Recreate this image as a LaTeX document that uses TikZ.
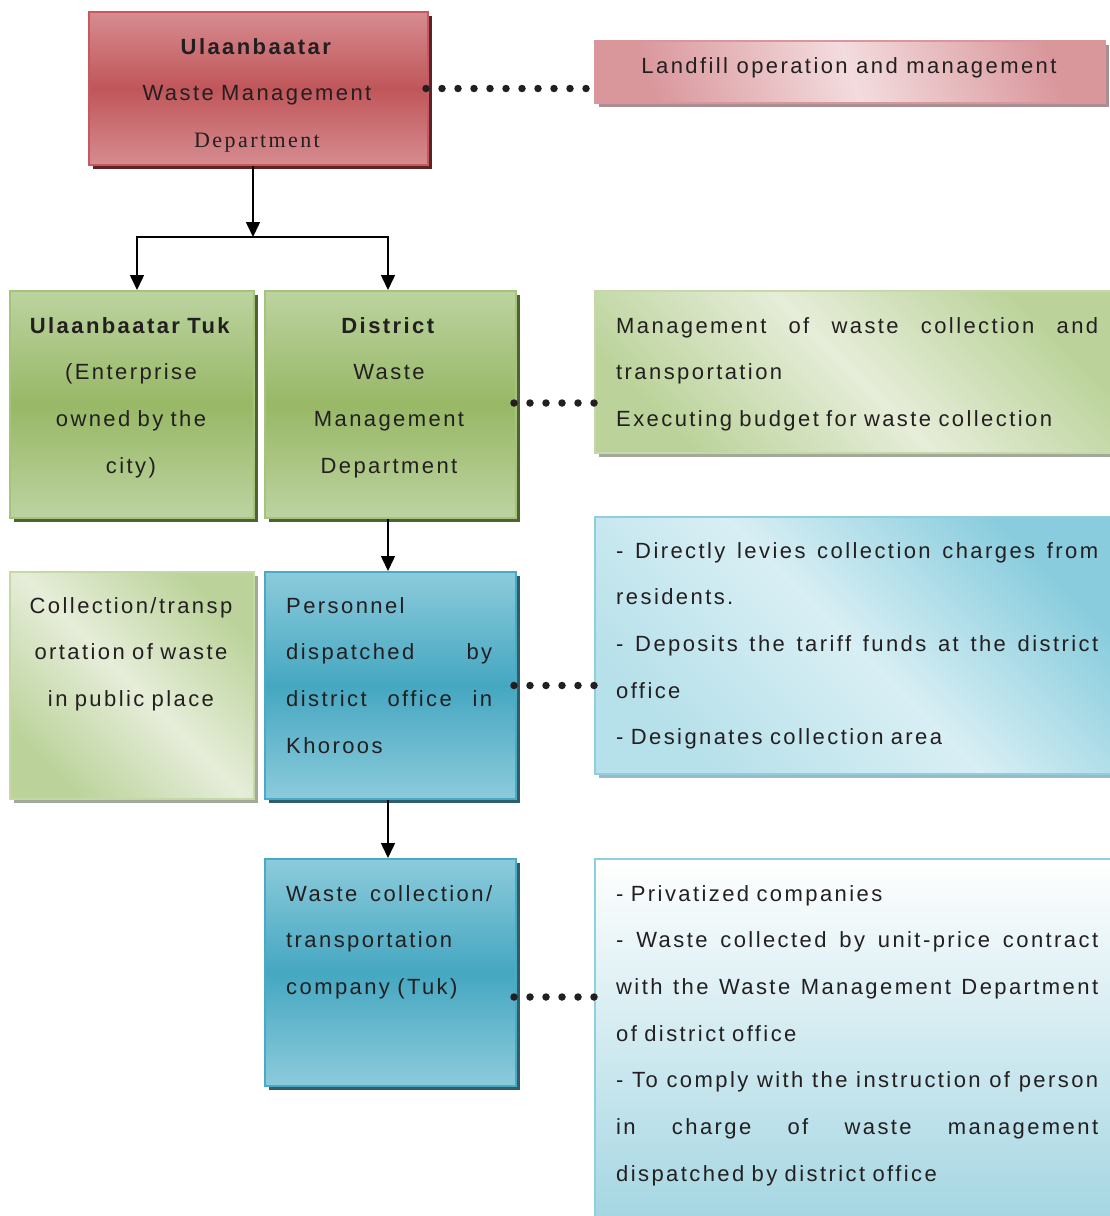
\documentclass[tikz,border=0pt]{standalone}
\usepackage{fontspec}
\setmainfont{Liberation Sans}[LetterSpace=11]
\newfontfamily\serifdept{Liberation Serif}[LetterSpace=11]
\usepackage{xcolor}
\usepackage{tikz}
\usetikzlibrary{positioning,shadows,arrows.meta}

\definecolor{inkgray}{HTML}{231F20}
\definecolor{redlight}{HTML}{D68C90}
\definecolor{reddark}{HTML}{C0565A}
\definecolor{redline}{HTML}{C9585E}
\definecolor{redshadow}{HTML}{5C2426}
\definecolor{pinklight}{HTML}{F3DCDE}
\definecolor{pinkdark}{HTML}{D9969B}
\definecolor{pinkshadow}{HTML}{A88F93}
\definecolor{greenlight}{HTML}{BCD3A0}
\definecolor{greendark}{HTML}{98B866}
\definecolor{greenline}{HTML}{A3C47A}
\definecolor{greenshadow}{HTML}{4F6332}
\definecolor{palegreen}{HTML}{E6EDD9}
\definecolor{palegreendark}{HTML}{BBD39A}
\definecolor{palegreenline}{HTML}{C5D8A8}
\definecolor{greyshadow}{HTML}{A3A99A}
\definecolor{bluelight}{HTML}{8CCBDB}
\definecolor{bluedark}{HTML}{45A7C1}
\definecolor{blueline}{HTML}{4AAAC6}
\definecolor{blueshadow}{HTML}{2E5D6B}
\definecolor{paleblue}{HTML}{D8EFF4}
\definecolor{palebluedark}{HTML}{88CCDD}
\definecolor{palebluemid}{HTML}{B6E0EA}
\definecolor{palebluebottom}{HTML}{A5D6E2}
\definecolor{palebluline}{HTML}{8DCFE0}
\definecolor{blueshadowpale}{HTML}{9FB8C0}

% one justified line of a box text
\newcommand{\jline}[1]{\makebox[\linewidth][s]{\spaceskip=0.3em plus 1fil\relax #1}}

\tikzset{
  box/.style={rectangle, line width=2pt, inner sep=0pt},
  redbox/.style={box, draw=redline, top color=redlight, bottom color=redlight, middle color=reddark,
    general shadow={shadow xshift=4pt, shadow yshift=-4pt, fill=redshadow}},
  pinkbox/.style={box, draw=pinkdark, top color=pinkdark, bottom color=pinkdark, middle color=pinklight, shading angle=-70,
    general shadow={shadow xshift=4pt, shadow yshift=-4pt, fill=pinkshadow}},
  greenbox/.style={box, draw=greenline, top color=greenlight, bottom color=greenlight, middle color=greendark,
    general shadow={shadow xshift=4pt, shadow yshift=-4pt, fill=greenshadow}},
  palegreenbox/.style={box, draw=palegreenline, top color=palegreendark, bottom color=palegreendark, middle color=palegreen, shading angle=-45,
    general shadow={shadow xshift=4pt, shadow yshift=-4pt, fill=greyshadow}},
  bluebox/.style={box, draw=blueline, top color=bluelight, bottom color=bluelight, middle color=bluedark,
    general shadow={shadow xshift=4pt, shadow yshift=-4pt, fill=blueshadow}},
  paleblubox/.style={box, draw=palebluline, top color=palebluedark, bottom color=palebluemid, middle color=paleblue, shading angle=-45,
    general shadow={shadow xshift=4pt, shadow yshift=-4pt, fill=blueshadowpale}},
  txt/.style={inner sep=0pt, font=\fontsize{22}{46.7}\selectfont, text=inkgray},
  dots/.style={inkgray, line width=7.5pt, line cap=round, dash pattern=on 0pt off 16pt},
}

\begin{document}
\begin{tikzpicture}[x=1pt, y=-1pt, >={Triangle[width=14pt,length=15pt]}]
  \useasboundingbox (0,0) rectangle (1110,1216);

  % left and middle columns
  \node[redbox, minimum width=339pt, minimum height=153pt] (wmd) at (258.5,88.5) {};
  \node[greenbox, minimum width=244pt, minimum height=227pt] (tuk) at (132,404.5) {};
  \node[greenbox, minimum width=251pt, minimum height=227pt] (dwmd) at (390.5,404.5) {};
  \node[palegreenbox, minimum width=244pt, minimum height=227pt] (public) at (132,685.5) {};
  \node[bluebox, minimum width=251pt, minimum height=227pt] (khoroo) at (390.5,685.5) {};
  \node[bluebox, minimum width=251pt, minimum height=227pt] (company) at (390.5,972.5) {};

  % right column
  \node[pinkbox, minimum width=510pt, minimum height=62pt] (landfill) at (850,72) {};
  \node[palegreenbox, minimum width=517pt, minimum height=162pt] (dwmd-role) at (853.5,372) {};
  \node[paleblubox, minimum width=517pt, minimum height=257pt] (khoroo-role) at (853.5,645.5) {};
  \node[box, draw=palebluline, top color=white, bottom color=palebluebottom, minimum width=517pt, minimum height=358pt] (company-role) at (853.5,1038) {};

  % texts
  \node[txt, text width=339pt, align=center, anchor=base] (wmd-text) at (257,54)
    {\textbf{Ulaanbaatar}\\Waste Management\\{\serifdept Department}};
  \node[txt, anchor=base] (landfill-text) at (849,73) {Landfill operation and management};
  \node[txt, text width=244pt, align=center, anchor=base] (tuk-text) at (131,333)
    {\textbf{Ulaanbaatar Tuk}\\(Enterprise\\owned by the\\city)};
  \node[txt, text width=251pt, align=center, anchor=base] (dwmd-text) at (389,333)
    {\textbf{District}\\Waste\\Management\\Department};
  \node[txt, text width=482pt, align=left, anchor=base west] (dwmd-role-text) at (616,333)
    {\jline{Management of waste collection and}\\transportation\\Executing budget for waste collection};
  \node[txt, text width=244pt, align=center, anchor=base] (public-text) at (131,613)
    {Collection/transp\\ortation of waste\\in public place};
  \node[txt, text width=206pt, align=left, anchor=base west] (khoroo-text) at (286,613)
    {Personnel\\\jline{dispatched by}\\\jline{district office in}\\Khoroos};
  \node[txt, text width=482pt, align=left, anchor=base west] (khoroo-role-text) at (616,558)
    {\jline{- Directly levies collection charges from}\\residents.\\\jline{- Deposits the tariff funds at the district}\\office\\- Designates collection area};
  \node[txt, text width=206pt, align=left, anchor=base west] (company-text) at (286,901)
    {\jline{Waste collection/}\\transportation\\company (Tuk)};
  \node[txt, text width=482pt, align=left, anchor=base west] (company-role-text) at (616,901)
    {- Privatized companies\\\jline{- Waste collected by unit-price contract}\\\jline{with the Waste Management Department}\\of district office\\\jline{- To comply with the instruction of person}\\\jline{in charge of waste management}\\dispatched by district office};

  % arrows
  \coordinate (fork) at (253,237);
  \draw[line width=1.5pt, ->] (fork |- wmd.south) -- (fork);
  \draw[line width=1.5pt, ->] (fork) -| ([xshift=5pt]tuk.north);
  \draw[line width=1.5pt, ->] (fork) -| ([xshift=-2.5pt]dwmd.north);
  \draw[line width=1.5pt, ->] ([xshift=-2.5pt]dwmd.south) -- ([xshift=-2.5pt]khoroo.north);
  \draw[line width=1.5pt, ->] ([xshift=-2.5pt]khoroo.south) -- ([xshift=-2.5pt]company.north);

  % dotted links
  \draw[dots] ([xshift=-3pt]wmd.east) -- ([xshift=-5pt]wmd.east -| landfill.west);
  \draw[dots] ([xshift=-3pt, yshift=1.5pt]dwmd.east) -- ([xshift=2pt, yshift=1.5pt]dwmd.east -| dwmd-role.west);
  \draw[dots] ([xshift=-3pt]khoroo.east) -- ([xshift=2pt]khoroo.east -| khoroo-role.west);
  \draw[dots] ([xshift=-3pt, yshift=-24.5pt]company.east) -- ([xshift=2pt, yshift=-24.5pt]company.east -| company-role.west);
\end{tikzpicture}
\end{document}
